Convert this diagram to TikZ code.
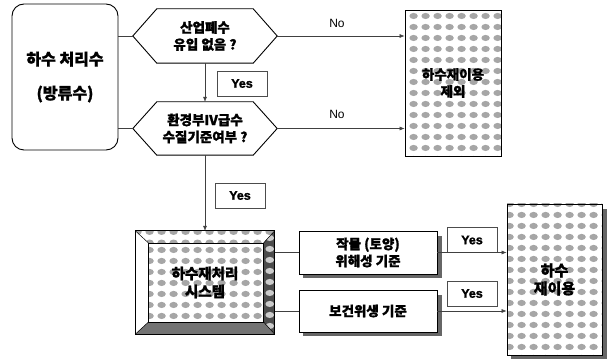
\documentclass[tikz,border=0pt]{standalone}
\usepackage{fontspec}
\setmainfont{Liberation Sans}[BoldFeatures={FakeBold=1.5}]
\newfontfamily\kr{Noto Sans CJK KR}[BoldFont={* Black}, BoldFeatures={FakeBold=1.2}]
\usetikzlibrary{arrows.meta,patterns.meta,calc,backgrounds}
\tikzdeclarepattern{
  name=blobs,
  type=uncolored,
  bounding box={(0pt,0pt) and (12pt,10.5pt)},
  tile size={(12pt,10.5pt)},
  code={\fill (6pt,5.25pt) ellipse [x radius=4.5pt, y radius=3.2pt];}
}
\tikzset{
  conn/.style={draw=black!75, line width=0.5pt},
  arr/.style={conn, -{Latex[length=5pt,width=4pt]}},
  krtext/.style={font=\kr\bfseries\fontsize{13.5}{17}\selectfont, align=center},
  yesbox/.style={draw=black!70, line width=0.6pt, font=\bfseries\fontsize{12.5}{14}\selectfont, minimum width=50pt, minimum height=25pt, inner sep=0pt},
  nolab/.style={font=\fontsize{12}{14}\selectfont},
  blobfill/.style={preaction={fill=white}, pattern={blobs}, pattern color=gray!70},
  heavy/.style={line width=0.9pt},
}
\begin{document}
\begin{tikzpicture}[x=1pt,y=-1pt]
\useasboundingbox (0,0) rectangle (608,363);
% left source box
\node[draw, heavy, rounded corners=12pt, minimum width=106pt, minimum height=146pt, krtext, font=\kr\bfseries\fontsize{16}{19}\selectfont] (src) at (65,77) {하수 처리수\\[15pt](방류수)};
% decision 1
\node[minimum width=144pt, minimum height=54pt, krtext, inner sep=0pt] (q1) at (205,36) {산업폐수\\유입 없음 ?};
\draw[heavy] (q1.west) -- ($(q1.north west)+(24,0)$) -- ($(q1.north east)+(-24,0)$) -- (q1.east) -- ($(q1.south east)+(-24,0)$) -- ($(q1.south west)+(24,0)$) -- cycle;
% decision 2
\node[minimum width=144pt, minimum height=53pt, krtext, inner sep=0pt] (q2) at (205,128.5) {환경부IV급수\\수질기준여부 ?};
\draw[heavy] (q2.west) -- ($(q2.north west)+(24,0)$) -- ($(q2.north east)+(-24,0)$) -- (q2.east) -- ($(q2.south east)+(-24,0)$) -- ($(q2.south west)+(24,0)$) -- cycle;
% excluded box
\node[draw, heavy, minimum width=96pt, minimum height=146pt, krtext, blobfill] (ex) at (453,83) {하수재이용\\제외};
% yes labels
\node[yesbox] (yes1) at (242,83.5) {Yes};
\node[yesbox] (yes2) at (240,195.5) {Yes};
\node[yesbox] (yes3) at (472,240) {Yes};
\node[yesbox] (yes4) at (472,293.5) {Yes};
\node[nolab] (no1) at (337,23) {No};
\node[nolab] (no2) at (337,114) {No};
% treatment system (bevel box)
\node[minimum width=139pt, minimum height=103pt, krtext, font=\kr\bfseries\fontsize{14.5}{18}\selectfont] (sys) at (205,282.5) {하수재처리\\시스템};
% criteria boxes
\node[draw, heavy, fill=white, minimum width=138pt, minimum height=43pt, krtext] (c1) at (368,252.5) {작물 (토양)\\위해성 기준};
\node[draw, heavy, fill=white, minimum width=138pt, minimum height=42pt, krtext] (c2) at (368,311) {보건위생 기준};
% final reuse box
\node[draw, heavy, minimum width=95pt, minimum height=151pt, krtext, blobfill, font=\kr\bfseries\fontsize{15}{18}\selectfont] (fin) at (554.5,279.5) {하수\\재이용};
\begin{scope}[on background layer]
  \fill[black!60] ($(c1.south west)+(4,4)$) rectangle ($(c1.north east)+(5,5)$);
  \fill[black!60] ($(c2.south west)+(4,4)$) rectangle ($(c2.north east)+(5,5)$);
  \fill[black!60] ($(fin.south west)+(4,4)$) rectangle ($(fin.north east)+(5,5)$);
  % bevel
  \coordinate (iNW) at ($(sys.north west)+(13,12)$);
  \coordinate (iNE) at ($(sys.north east)+(-11,12)$);
  \coordinate (iSW) at ($(sys.south west)+(13,-12)$);
  \coordinate (iSE) at ($(sys.south east)+(-11,-12)$);
  \fill[white] (sys.north west) -- (iNW) -- (iSW) -- (sys.south west) -- cycle;
  \path[blobfill] (sys.north west) -- (sys.north east) -- (iNE) -- (iNW) -- cycle;
  \fill[black!70] (sys.north east) -- (sys.south east) -- (iSE) -- (iNE) -- cycle;
  \path[pattern={blobs}, pattern color=gray!40] (sys.north east) -- (sys.south east) -- (iSE) -- (iNE) -- cycle;
  \fill[black!55] (sys.south west) -- (iSW) -- (iSE) -- (sys.south east) -- cycle;
  \path[blobfill] (iNW) rectangle (iSE);
  \draw[heavy] (sys.north west) rectangle (sys.south east);
  \draw[line width=0.5pt] (iNW) rectangle (iSE);
  \draw[line width=0.5pt] (sys.north west) -- (iNW) (sys.north east) -- (iNE) (sys.south west) -- (iSW) (sys.south east) -- (iSE);
\end{scope}
% connectors
\draw[conn] (src.east |- q1.west) -- (q1.west);
\draw[arr] (q1.east) -- (q1.east -| ex.west);
\draw[arr] (q1.south) -- (q2.north);
\draw[conn] (src.east |- q2.west) -- (q2.west);
\draw[arr] (q2.east) -- (q2.east -| ex.west);
\draw[arr] (q2.south) -- (sys.north);
\draw[conn] (sys.east |- c1.west) -- (c1.west);
\draw[conn] (sys.east |- c2.west) -- (c2.west);
\draw[arr] (c1.east) -- (c1.east -| fin.west);
\draw[arr] (c2.east) -- (c2.east -| fin.west);
\end{tikzpicture}
\end{document}
